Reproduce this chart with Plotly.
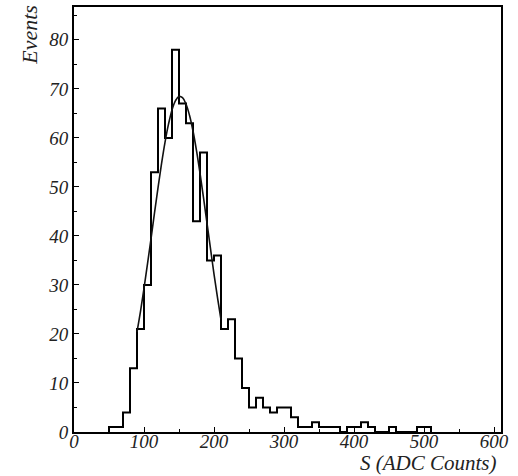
import plotly.graph_objects as go

# Histogram: lower bin edges (width 10) and counts
bin_low = [50, 60, 70, 80, 90, 100, 110, 120, 130, 140, 150, 160, 170, 180, 190,
           200, 210, 220, 230, 240, 250, 260, 270, 280, 290, 300, 310, 320, 330,
           340, 350, 360, 370, 380, 390, 400, 410, 420, 430, 440, 450, 460, 470,
           480, 490, 500]
counts = [1, 1, 4, 13, 21, 30, 53, 66, 60, 78, 67, 63, 43, 57, 35,
          36, 21, 23, 15, 9, 5, 7, 5, 4, 5, 5, 3, 1, 1,
          2, 1, 1, 1, 0, 1, 1, 2, 1, 0, 0, 1, 0, 0,
          0, 1, 1]
bin_width = 10

# Fit curve points
fit_x = [90, 95, 100, 105, 110, 115, 120, 125, 130, 135, 140, 145, 150, 155,
         160, 165, 170, 175, 180, 185, 190, 195, 200, 205, 210]
fit_y = [20.4, 24.6, 29.3, 34.3, 39.4, 44.7, 49.8, 54.7, 59.1, 62.8, 65.7, 67.6,
         68.45, 68.2, 66.9, 64.6, 61.4, 57.4, 52.8, 47.8, 42.6, 37.4, 32.2, 27.4, 22.9]

x_ticks = [0, 100, 200, 300, 400, 500, 600]
y_ticks = [0, 10, 20, 30, 40, 50, 60, 70, 80]

step_x = [bin_low[0]] + bin_low + [bin_low[-1] + bin_width, bin_low[-1] + bin_width]
step_y = [0] + counts + [counts[-1], 0]

FONT = "Liberation Serif"

fig = go.Figure()
fig.add_trace(go.Scatter(x=step_x, y=step_y, mode="lines",
                         line=dict(shape="hv", color="black", width=2),
                         showlegend=False, hoverinfo="skip"))
fig.add_trace(go.Scatter(x=fit_x, y=fit_y, mode="lines",
                         line=dict(color="#111111", width=1.6, shape="spline"),
                         showlegend=False, hoverinfo="skip"))

fig.update_layout(
    width=518, height=476,
    margin=dict(l=74, r=17, t=7, b=44, autoexpand=False),
    paper_bgcolor="white", plot_bgcolor="white",
    font=dict(family=FONT, size=19, color="#222222"),
    xaxis=dict(range=[0, 610], tickvals=x_ticks,
               ticktext=["<i>%d</i>" % v for v in x_ticks],
               ticks="inside", ticklen=5, tickwidth=1, tickcolor="black",
               ticklabelstandoff=-9,
               minor=dict(dtick=50, tick0=0, ticks="inside", ticklen=3, tickcolor="black"),
               showline=True, linecolor="black", linewidth=2, mirror=True,
               showgrid=False, zeroline=False, automargin=False,
               tickfont=dict(family=FONT, size=19)),
    yaxis=dict(range=[0, 86.7], tickvals=y_ticks,
               ticktext=["<i>%d</i>" % v for v in y_ticks],
               ticks="inside", ticklen=5, tickwidth=1, tickcolor="black",
               minor=dict(dtick=5, tick0=0, ticks="inside", ticklen=3, tickcolor="black"),
               showline=True, linecolor="black", linewidth=2, mirror=True,
               showgrid=False, zeroline=False, automargin=False,
               tickfont=dict(family=FONT, size=19)),
)

fig.add_annotation(text="<i>Events</i>", xref="paper", yref="paper", x=-0.105, y=0.935,
                   xanchor="center", yanchor="middle", textangle=-90, showarrow=False,
                   font=dict(family=FONT, size=22, color="#222222"))
fig.add_annotation(text="<i>S (ADC Counts)</i>", xref="paper", yref="paper", x=0.993, y=-0.104,
                   xanchor="right", yanchor="bottom", showarrow=False, borderpad=0,
                   font=dict(family=FONT, size=21, color="#222222"))

fig.write_html("out.html", config={"displayModeBar": False},
               post_script="document.body.style.margin='0';document.body.style.padding='0';")
